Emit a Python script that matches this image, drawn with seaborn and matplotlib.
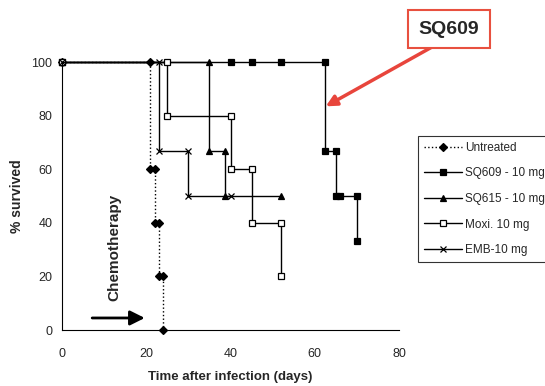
import matplotlib
matplotlib.use("Agg")
import matplotlib.pyplot as plt
import seaborn as sns
import pandas as pd

# survival curves as step vertices (days, % survived)
untreated_t = [0, 21, 21, 22, 22, 23, 23, 24, 24]
untreated_s = [100, 100, 60, 60, 40, 40, 20, 20, 0]

sq609_t = [0, 40, 45, 52, 62.5, 62.5, 65, 65, 66, 70, 70]
sq609_s = [100, 100, 100, 100, 100, 66.7, 66.7, 50, 50, 50, 33.3]

sq615_t = [0, 35, 35, 38.7, 38.7, 52]
sq615_s = [100, 100, 66.7, 66.7, 50, 50]

moxi_t = [0, 25, 25, 40, 40, 45, 45, 52, 52]
moxi_s = [100, 100, 80, 80, 60, 60, 40, 40, 20]

emb_t = [0, 23, 23, 30, 30, 40]
emb_s = [100, 100, 66.7, 66.7, 50, 50]

labels = ["Untreated", "SQ609 - 10 mg", "SQ615 - 10 mg", "Moxi. 10 mg", "EMB-10 mg"]
x_ticks = [0, 20, 40, 60, 80]
y_ticks = [0, 20, 40, 60, 80, 100]

sns.set_style("white")
plt.rcParams["font.family"] = ["Liberation Sans", "DejaVu Sans"]

fig = plt.figure(figsize=(5.45, 3.86), dpi=100)
ax = fig.add_axes([0.1138, 0.145, 0.6184, 0.694])

series = [
    (untreated_t, untreated_s, "D", "black", ":", 4),
    (sq609_t, sq609_s, "s", "black", "-", 4.5),
    (sq615_t, sq615_s, "^", "black", "-", 5),
    (moxi_t, moxi_s, "s", "white", "-", 4.5),
    (emb_t, emb_s, "x", "black", "-", 4.5),
]

for (t, s, mk, fc, ls, ms), lab in zip(series, labels):
    df = pd.DataFrame({"t": t, "s": s})
    sns.lineplot(data=df, x="t", y="s", ax=ax, sort=False, estimator=None,
                 color="black", linestyle=ls, linewidth=1.0,
                 marker=mk, markersize=ms, markerfacecolor=fc,
                 markeredgecolor="black", markeredgewidth=0.9,
                 label=lab, clip_on=False, legend=False)

ax.set_xlim(0, 80)
ax.set_ylim(0, 100)
ax.set_xticks(x_ticks)
ax.set_yticks(y_ticks)
ax.tick_params(axis="x", direction="in", length=4, width=0.8, labelsize=9, pad=13)
ax.tick_params(axis="y", direction="out", length=4, width=0.8, labelsize=9, pad=3)
for side in ["top", "right"]:
    ax.spines[side].set_visible(False)
for side in ["left", "bottom"]:
    ax.spines[side].set_color("black")
    ax.spines[side].set_linewidth(0.8)

ax.set_xlabel("Time after infection (days)", fontsize=9.5, fontweight="bold", labelpad=8)
ax.set_ylabel("% survived", fontsize=10, fontweight="bold", labelpad=5.5)

handles, _ = ax.get_legend_handles_labels()
leg = fig.legend(handles, labels, loc="upper left", bbox_to_anchor=(0.767, 0.648),
                 fontsize=8.5, frameon=True, fancybox=False, edgecolor="black",
                 labelspacing=1.15, handlelength=3.2, handletextpad=0.3,
                 borderpad=0.5, borderaxespad=0)
leg.get_frame().set_linewidth(0.8)

# chemotherapy annotation
ax.text(12.4, 31, "Chemotherapy", rotation=90, ha="center", va="center",
        fontsize=11, fontweight="bold")
ax.annotate("", xy=(20.3, 4.5), xytext=(6.5, 4.5),
            arrowprops=dict(arrowstyle="-|>", color="black", lw=2, mutation_scale=22))

# SQ609 callout
fig.text(449 / 545, 1 - 29 / 386, "SQ609", ha="center", va="center",
         fontsize=14, fontweight="bold",
         bbox=dict(boxstyle="square,pad=0.55", facecolor="white",
                   edgecolor="#e8503f", linewidth=1.5))
ax.annotate("", xy=(62.6, 83.5), xycoords="data",
            xytext=(432 / 545, 1 - 47 / 386), textcoords="figure fraction",
            arrowprops=dict(arrowstyle="-|>", color="#e8453c", lw=2.5,
                            mutation_scale=16, shrinkA=0, shrinkB=0))

fig.savefig("out.png", dpi=100)
